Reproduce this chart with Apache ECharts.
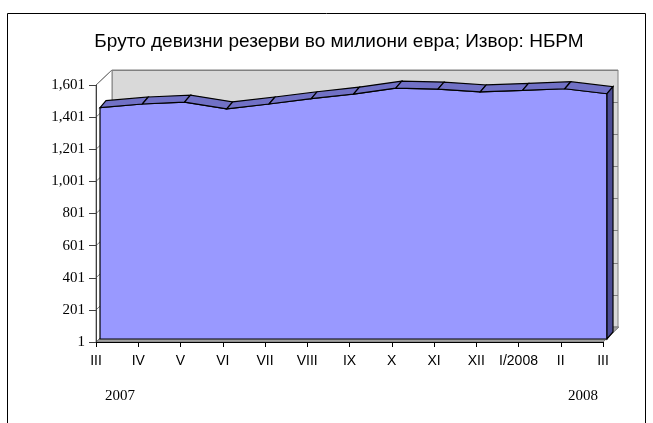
<!DOCTYPE html>
<html>
<head>
<meta charset="utf-8">
<script src="https://cdn.jsdelivr.net/npm/echarts@6/dist/echarts.min.js"></script>
<style>html,body{margin:0;padding:0;background:#fff;}#c{width:653px;height:423px;}</style>
</head>
<body>
<div id="c"></div>
<script>
const titleText = 'Бруто девизни резерви во милиони евра; Извор: НБРМ';
const categories = ['III','IV','V','VI','VII','VIII','IX','X','XI','XII','I/2008','II','III'];
const reserves = [1440, 1463, 1475, 1433, 1463, 1496, 1525, 1562, 1556, 1538, 1548, 1558, 1527];
const yTickValues = [0, 200, 400, 600, 800, 1000, 1200, 1400, 1600];
const yTickLabels = ['1','201','401','601','801','1,001','1,201','1,401','1,601'];
const years = ['2007','2008'];

const chart = echarts.init(document.getElementById('c'), null, {renderer:'canvas'});
const BACK = [16, -15];   // wall depth
const DEPTH = [6, -7];    // area thickness

function shift(p, d){ return [p[0]+d[0], p[1]+d[1]]; }

const option = {
  animation: false,
  backgroundColor: '#fff',
  title: {
    text: titleText, left: 334, top: 27, textAlign: 'center',
    textStyle: {fontFamily: 'Liberation Sans', fontSize: 19, fontWeight: 'normal', color: '#000'}
  },
  grid: [
    {left: 96, top: 85, width: 507, height: 257},
    {left: 112, top: 70, width: 506, height: 257, show: true, backgroundColor: '#D9D9D9', borderColor: '#808080', borderWidth: 1, z: -5},
    {left: 100, top: 82, width: 507, height: 257}
  ],
  xAxis: [
    {gridIndex: 0, type: 'category', data: categories, boundaryGap: false,
     axisLine: {lineStyle: {color: '#000'}}, axisTick: {show: true, length: 5, lineStyle: {color: '#000'}, alignWithLabel: true},
     axisLabel: {interval: 0, margin: 12, fontFamily: 'Liberation Sans', fontSize: 14, color: '#000'}, z: 4},
    {gridIndex: 1, type: 'category', data: categories, boundaryGap: false, show: false},
    {gridIndex: 2, type: 'category', data: categories, boundaryGap: false, show: false}
  ],
  yAxis: [
    {gridIndex: 0, type: 'value', min: 0, max: 1600, interval: 200,
     axisLine: {show: true, lineStyle: {color: '#404040'}}, axisTick: {show: true, length: 7, lineStyle: {color: '#404040'}},
     splitLine: {show: false},
     axisLabel: {margin: 11, fontFamily: 'Liberation Serif', fontSize: 15, color: '#000',
       formatter: (v) => yTickLabels[yTickValues.indexOf(v)]}, z: 4},
    {gridIndex: 1, type: 'value', min: 0, max: 1600, interval: 200,
     axisLine: {show: false}, axisTick: {show: false}, axisLabel: {show: false},
     splitLine: {show: true, lineStyle: {color: '#808080', width: 1}}},
    {gridIndex: 2, type: 'value', min: 0, max: 1600, interval: 200, show: false}
  ],
  graphic: [
    {type: 'rect', shape: {x: 7.5, y: 13.5, width: 638, height: 420}, style: {fill: 'none', stroke: '#000', lineWidth: 1}, z: 10},
    {type: 'text', style: {text: years[0], x: 120, y: 396, textAlign: 'center', textVerticalAlign: 'middle', fontFamily: 'Liberation Serif', fontSize: 15, fill: '#000'}},
    {type: 'text', style: {text: years[1], x: 583, y: 396, textAlign: 'center', textVerticalAlign: 'middle', fontFamily: 'Liberation Serif', fontSize: 15, fill: '#000'}}
  ],
  series: [
    {
      // side wall and floor of the frame, drawn from the front axes' scale
      type: 'custom', xAxisIndex: 0, yAxisIndex: 0, z: 1,
      data: yTickValues.map(v => [0, v]),
      renderItem: function(params, api){
        const i = params.dataIndex;
        const children = [];
        const n = categories.length;
        if (i === 0) {
          const bl = api.coord([0, 0]), tl = api.coord([0, 1600]);
          const br = api.coord([n-1, 0]);
          children.push({type: 'polygon', shape: {points: [tl, shift(tl, BACK), shift(bl, BACK), bl]},
            style: {fill: '#FFFFFF', stroke: '#808080', lineWidth: 1}});
          children.push({type: 'polygon', shape: {points: [bl, br, shift(br, BACK), shift(bl, BACK)]},
            style: {fill: '#A0A0A0', stroke: '#808080', lineWidth: 1}});
        }
        const p = api.coord([0, api.value(1)]);
        children.push({type: 'line', shape: {x1: p[0], y1: p[1], x2: p[0]+BACK[0], y2: p[1]+BACK[1]},
          style: {stroke: '#808080', lineWidth: 1}});
        return {type: 'group', children: children};
      }
    },
    {
      type: 'custom', xAxisIndex: 2, yAxisIndex: 2, z: 3,
      data: reserves.map((v, i) => [i, v]),
      encode: {x: 0, y: 1},
      renderItem: function(params, api){
        const i = params.dataIndex;
        const n = reserves.length;
        const pt = j => api.coord([j, reserves[j]]);
        const base = j => api.coord([j, 0]);
        const children = [];
        if (i === 0) {
          const pts = [];
          for (let j = 0; j < n; j++) pts.push(pt(j));
          pts.push(base(n-1)); pts.push(base(0));
          children.push({type: 'polygon', shape: {points: pts},
            style: {fill: '#9999FF', stroke: '#000', lineWidth: 1.2}});
        }
        if (i < n - 1) {
          const a = pt(i), b = pt(i+1);
          children.push({type: 'polygon', shape: {points: [a, b, shift(b, DEPTH), shift(a, DEPTH)]},
            style: {fill: '#7171C6', stroke: '#000', lineWidth: 1.2}});
        } else {
          const a = pt(i), b = base(i);
          children.push({type: 'polygon', shape: {points: [a, shift(a, DEPTH), shift(b, DEPTH), b]},
            style: {fill: '#4D4D96', stroke: '#000', lineWidth: 1.2}});
        }
        return {type: 'group', children: children};
      }
    }
  ]
};
chart.setOption(option);
</script>
</body>
</html>
